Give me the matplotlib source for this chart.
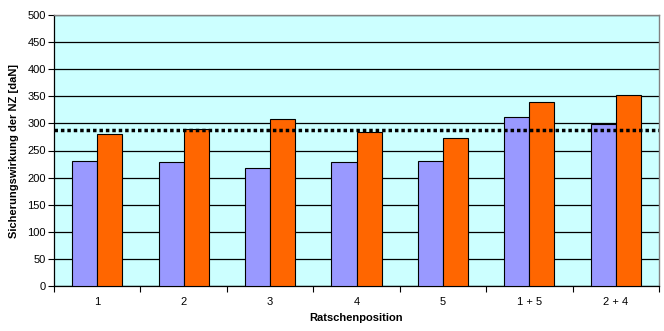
import matplotlib
matplotlib.use("Agg")
import matplotlib.pyplot as plt
import numpy as np

categories = ["1", "2", "3", "4", "5", "1 + 5", "2 + 4"]
series_a = [230, 228, 218, 228, 231, 311, 298]
series_b = [280, 290, 308, 284, 273, 339, 352]
reference_level = 288
y_ticks = [0, 50, 100, 150, 200, 250, 300, 350, 400, 450, 500]

plt.rcParams['font.family'] = ['Liberation Sans', 'DejaVu Sans']

fig = plt.figure(figsize=(6.64, 3.31), dpi=100)
ax = fig.add_axes([54/664, 45/331, 605/664, 271/331])
ax.set_facecolor('#CCFFFF')

x = np.arange(len(categories))
w = 0.29
ax.bar(x - w/2, series_a, w, color='#9999FF', edgecolor='black', linewidth=0.8, zorder=3)
ax.bar(x + w/2, series_b, w, color='#FF6600', edgecolor='black', linewidth=0.8, zorder=3)

ax.axhline(reference_level, color='black', linestyle=(0, (1, 0.85)), linewidth=2.5, zorder=4)

ax.set_xlim(-0.5, len(categories) - 0.5)
ax.set_ylim(0, 500)
ax.set_yticks(y_ticks)
ax.yaxis.grid(True, color='black', linewidth=0.9, zorder=1)
ax.set_axisbelow(True)

ax.set_xticks(np.arange(len(categories) + 1) - 0.5)
ax.set_xticklabels([])
ax.set_xticks(x, minor=True)
ax.set_xticklabels(categories, minor=True)
ax.tick_params(axis='x', which='minor', length=0, pad=8, labelsize=8)
ax.tick_params(axis='x', which='major', length=4, direction='out', color='black')
ax.tick_params(axis='y', length=4, direction='out', labelsize=8, pad=2)

for s in ['top', 'right']:
    ax.spines[s].set_color('#808080')
    ax.spines[s].set_linewidth(1.0)
for s in ['left', 'bottom']:
    ax.spines[s].set_color('black')
    ax.spines[s].set_linewidth(0.9)

ax.set_xlabel("Ratschenposition", fontsize=8, fontweight='bold', labelpad=4)
ax.set_ylabel("Sicherungswirkung der NZ [daN]", fontsize=8, fontweight='bold', labelpad=6)

fig.savefig("out.png", dpi=100)
